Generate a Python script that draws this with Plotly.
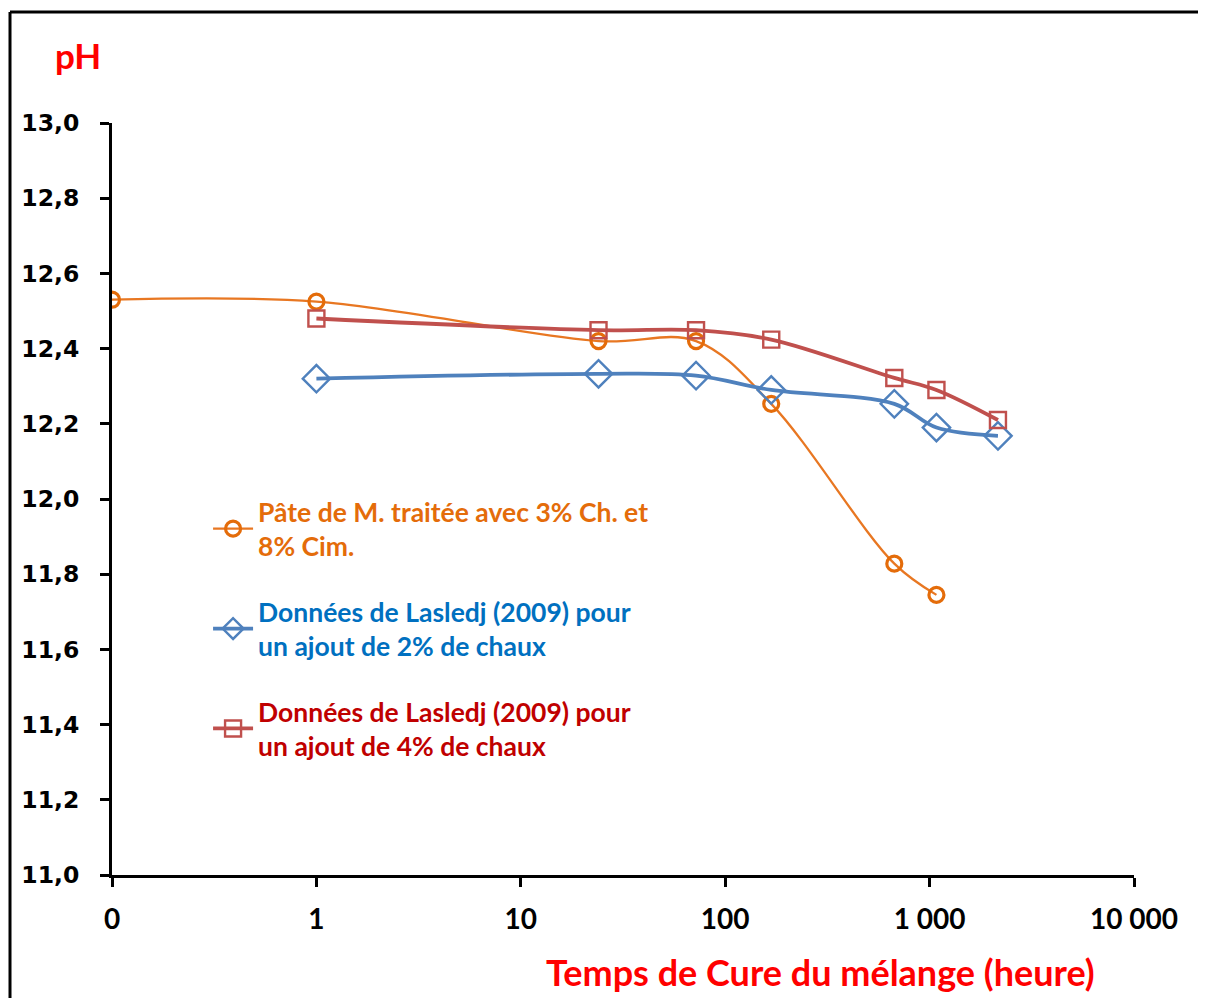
import plotly.graph_objects as go

# ---- data ----
hours_orange = [0, 1, 24, 72, 168, 672, 1080]
ph_orange = [12.53, 12.525, 12.42, 12.42, 12.253, 11.828, 11.745]

hours_blue = [1, 24, 72, 168, 672, 1080, 2160]
ph_blue = [12.32, 12.333, 12.328, 12.29, 12.253, 12.19, 12.168]

hours_red = [1, 24, 72, 168, 672, 1080, 2160]
ph_red = [12.48, 12.449, 12.449, 12.424, 12.322, 12.29, 12.21]

x_tickvals = [0.1, 1, 10, 100, 1000, 10000]
x_ticktext = ["0", "1", "10", "100", "1 000", "10 000"]
y_tickvals = [11.0, 11.2, 11.4, 11.6, 11.8, 12.0, 12.2, 12.4, 12.6, 12.8, 13.0]
y_ticktext = ["11,0", "11,2", "11,4", "11,6", "11,8", "12,0", "12,2", "12,4", "12,6", "12,8", "13,0"]

names = [
    "<span style='color:#E46C0A'>Pâte de M. traitée avec 3% Ch. et<br>8% Cim.</span>",
    "<span style='color:#0070C0'>Données de Lasledj (2009) pour<br>un ajout de 2% de chaux</span>",
    "<span style='color:#C00000'>Données de Lasledj (2009) pour<br>un ajout de 4% de chaux</span>",
]

FONT = "Lato"


def logpos(h):
    # zero hour is drawn at the axis origin (0.1, labelled "0")
    return [0.1 if v == 0 else v for v in h]


fig = go.Figure()
fig.add_trace(go.Scatter(
    x=logpos(hours_orange), y=ph_orange, name=names[0], legendgroup="a",
    mode="lines+markers", line=dict(color="#E87722", width=2.3, shape="spline"),
    marker=dict(symbol="circle-open", size=15, color="#E46C0A", line=dict(width=3.2, color="#E46C0A")),
))
fig.add_trace(go.Scatter(
    x=hours_blue, y=ph_blue, name=names[1], legendgroup="b",
    mode="lines+markers", line=dict(color="#4F81BD", width=3.8, shape="spline"),
    marker=dict(symbol="diamond-open", size=21, color="#4F81BD", line=dict(width=2.4, color="#4F81BD")),
))
fig.add_trace(go.Scatter(
    x=hours_red, y=ph_red, name=names[2], legendgroup="c",
    mode="lines+markers", line=dict(color="#C0504D", width=3.8, shape="spline"),
    marker=dict(symbol="square-open", size=16, color="#C0504D", line=dict(width=2.4, color="#C0504D")),
))

fig.update_layout(
    width=1190, height=990,
    margin=dict(l=104, r=64, t=115, b=123),
    paper_bgcolor="white", plot_bgcolor="white",
    showlegend=True,
    legend=dict(
        x=0.094, y=0.515, xanchor="left", yanchor="top",
        bgcolor="rgba(0,0,0,0)", font=dict(family=FONT, size=26.5, weight="bold"),
        tracegroupgap=28, itemwidth=40,
    ),
    xaxis=dict(
        type="log", range=[-1, 4], tickvals=x_tickvals, ticktext=x_ticktext,
        showgrid=False, zeroline=False, showline=True, linecolor="black", linewidth=3,
        ticks="outside", ticklen=9, tickwidth=3, tickcolor="black",
        tickfont=dict(family=FONT, size=28, color="black", weight="bold"),
        ticklabelstandoff=8,
    ),
    yaxis=dict(
        range=[11.0, 13.0], tickvals=y_tickvals, ticktext=y_ticktext,
        showgrid=False, zeroline=False, showline=True, linecolor="black", linewidth=3,
        ticks="outside", ticklen=9, tickwidth=3, tickcolor="black",
        tickfont=dict(family="DejaVu Sans", size=23.5, color="black", weight="bold"),
        ticklabelstandoff=16,
    ),
    annotations=[
        dict(text="pH", xref="paper", yref="paper", x=-0.0333, y=1.0904,
             xanchor="center", yanchor="middle", showarrow=False,
             font=dict(family=FONT, size=35, color="#FF0000", weight="bold")),
        dict(text="Temps de Cure du mélange (heure)", xref="paper", yref="paper",
             x=0.6937, y=-0.129, xanchor="center", yanchor="middle", showarrow=False,
             font=dict(family=FONT, size=36, color="#FF0000", weight="bold")),
    ],
    shapes=[
        dict(type="line", xref="paper", yref="paper", x0=-0.0998, y0=1.1476, x1=1.3, y1=1.1476,
             line=dict(color="black", width=3), layer="below"),
        dict(type="line", xref="paper", yref="paper", x0=-0.0998, y0=-0.3, x1=-0.0998, y1=1.1476,
             line=dict(color="black", width=3), layer="below"),
    ],
)

fig.write_html("out.html")
